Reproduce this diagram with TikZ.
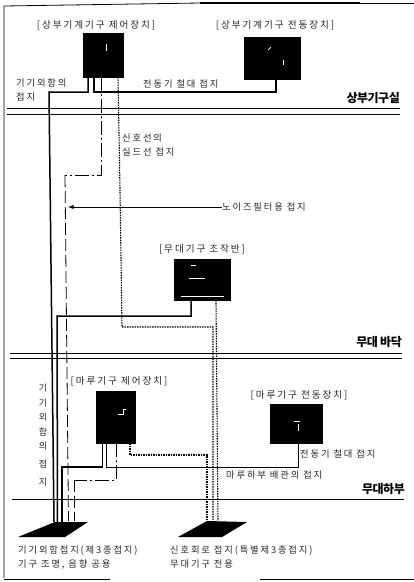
\documentclass[tikz,border=0pt]{standalone}
\usepackage{fontspec}
\setmainfont[LetterSpace=20]{Noto Sans CJK KR}
\newfontfamily\blobfont[LetterSpace=-4]{Noto Sans CJK KR Black}
\begin{document}
\begin{tikzpicture}[x=1pt,y=-1pt,
  lbl/.style={inner sep=0pt,font=\fontsize{9.3}{14}\selectfont,text=black!85,align=left},
  title/.style={lbl,font=\fontsize{9.6}{14}\selectfont},
  floorlbl/.style={inner sep=0pt,font=\fontsize{12}{12}\selectfont\blobfont,text=black},
  panel/.style={fill=black,draw=black,inner sep=0pt},
  earth/.style={draw=black,line width=1.5pt},
  wire/.style={draw=black,line width=1pt},
  dashw/.style={draw=black,line width=.8pt,dash pattern=on 12pt off 4pt},
  dashdot/.style={draw=black,line width=.8pt,dash pattern=on 14pt off 3pt on 2pt off 3pt},
  dotw/.style={draw=black,line width=1.1pt,dash pattern=on 1.5pt off 1pt},
  floorline/.style={draw=black,line width=.8pt},
  plate/.style={fill=black},
  speck/.style={draw=white,line width=.7pt}]
\useasboundingbox (0,0) rectangle (414,582);
% frame
\draw[line width=.8pt] (4,578) -- (4,6) -- (200,3);
\draw[line width=1.4pt] (200,3) -- (360,3);
\draw[line width=.6pt] (360,3) -- (414,3);
\draw[line width=1.5pt] (4,579.5) -- (110,579.5);
\draw[line width=1.5pt] (260,579.5) -- (414,579.5);
% panels
\node[panel,minimum width=40pt,minimum height=44pt] (b1) at (103,55) {};
\node[panel,minimum width=56pt,minimum height=42pt] (b2) at (272,58) {};
\node[panel,minimum width=56pt,minimum height=41pt] (b3) at (202,280) {};
\node[panel,minimum width=39pt,minimum height=52pt] (b4) at (115.5,417) {};
\node[panel,minimum width=52pt,minimum height=39pt] (b5) at (296,423.5) {};
% white marks in panels
\draw[speck] (106,44) -- (106,51); \draw[speck] (268,50) -- (271,47); \draw[speck] (283,60) -- (283,65);
\draw[speck] (191,265) -- (196,265); \draw[speck] (189,278) -- (205,278); \draw[speck] (181,296) -- (224,296);
\draw[speck] (118,414) -- (123,414) -- (123,409) -- (126,409); \draw[speck] (294,421) -- (300,421); \draw[speck] (298,424) -- (298,431);
% floor lines
\coordinate (f1a) at (7,108); \coordinate (f1b) at (400,108);
\coordinate (f1c) at (7,114); \coordinate (f1d) at (400,114);
\coordinate (f2a) at (10,353); \coordinate (f2b) at (402,353);
\coordinate (f2c) at (10,358); \coordinate (f2d) at (402,358);
\coordinate (f3a) at (12,499); \coordinate (f3b) at (404,499);
\draw[floorline] (f1a) -- (f1b);
\draw[floorline] (f1c) -- (f1d);
\draw[floorline] (f2a) -- (f2b);
\draw[floorline] (f2c) -- (f2d);
\draw[floorline] (f3a) -- (f3b);
% ground plates
\coordinate (g1) at (55,522); \coordinate (g1b) at (88,522); \coordinate (g1c) at (65,537); \coordinate (g1d) at (18,537);
\coordinate (g2) at (207,521); \coordinate (g2b) at (247,522); \coordinate (g2c) at (222,537); \coordinate (g2d) at (178,537);
\fill[plate] (g1) -- (g1b) -- (g1c) -- (g1d) -- cycle;
\fill[plate] (g2) -- (g2b) -- (g2c) -- (g2d) -- cycle;
% free bend points
\coordinate (a1) at (49,92);
\coordinate (a2) at (54,522);
\coordinate (c1) at (57,316);
\coordinate (c2) at (57.5,522);
\coordinate (d1) at (62,467);
\coordinate (d2) at (62,522);
\coordinate (e1) at (276,92);
\coordinate (k1) at (298,467);
\coordinate (f1) at (65,175);
\coordinate (f2) at (68.5,521);
\coordinate (g3) at (74,480);
\coordinate (g4) at (74,521);
\coordinate (h0) at (120,190);
\coordinate (h1) at (122,327);
\coordinate (h2) at (213,327);
\coordinate (h3) at (213,521);
\coordinate (i1) at (218,521);
\coordinate (j1) at (207,455);
\coordinate (j2) at (207,521);
\coordinate (arrowend) at (68,207);
% earth wires
\draw[earth] ([xshift=-15pt]b1.south) |- (a1) -- (a2);
\draw[earth] ([xshift=-9pt]b1.south) |- (e1) -- (e1 |- b2.south);
\draw[earth] ([xshift=-11pt]b3.south) |- (c1) -- (c2);
\draw[earth] ([xshift=-13pt]b4.south) |- (d1) -- (d2);
\draw[wire] ([xshift=-9pt]b4.south) |- (k1) -- (k1 |- b5.south);
% shield and signal wires
\draw[dashdot] ([xshift=-2pt]b1.south) |- (f1);
\draw[dashw] (f1) -- (f2);
\draw[dashdot] ([xshift=0.5pt]b4.south) |- (g3);
\draw[dashw] (g3) -- (g4);
\draw[dotw] ([xshift=15pt]b1.south) -- (h0) -- (h1) -- (h2) -- (h3);
\draw[dotw] ([xshift=14pt]b3.south) -- (i1);
\draw[dotw] ([xshift=14.5pt]b4.south) |- (j1) -- (j2);
% labels
\node[title] (t1) at (96,25) {[상부기계기구 제어장치]};
\node[title] (t2) at (275,25) {[상부기계기구 전동장치]};
\node[title] (t3) at (202,249) {[무대기구 조작반]};
\node[title] (t4) at (119,381) {[마루기구 제어장치]};
\node[title] (t5) at (299,395) {[마루기구 전동장치]};
\node[lbl,anchor=west] (l1) at (16,89.5) {기기외함의\\접지};
\node[lbl,anchor=west] (l2) at (143,84) {전동기 철대 접지};
\node[lbl,anchor=west] (l3) at (122,145.5) {신호선의\\실드선 접지};
\node[lbl,anchor=west] (l4) at (222,207) {노이즈필터용 접지};
\draw[-latex,line width=.9pt] (l4.west) -- (arrowend);
\node[lbl,anchor=north,align=center,font=\fontsize{9}{14.5}\selectfont] (l5) at (43,384) {기\\기\\외\\함\\의\\[3pt]접\\[4pt]지};
\node[lbl,anchor=west] (l6) at (300,454) {전동기 철대 접지};
\node[lbl,anchor=west] (l7) at (226,475) {마루하부 배관의 접지};
\node[lbl,anchor=west] (l8) at (18,557) {기기외함접지(제3종접지)\\기구 조명, 음향 공용};
\node[lbl,anchor=west] (l9) at (170,557) {신호회로 접지(특별제3종접지)\\무대기구 전용};
\node[floorlbl,anchor=east] (n1) at (400,98) {상부기구실};
\node[floorlbl,anchor=east] (n2) at (402,342) {무대 바닥};
\node[floorlbl,anchor=east] (n3) at (405,489) {무대하부};
\end{tikzpicture}
\end{document}
